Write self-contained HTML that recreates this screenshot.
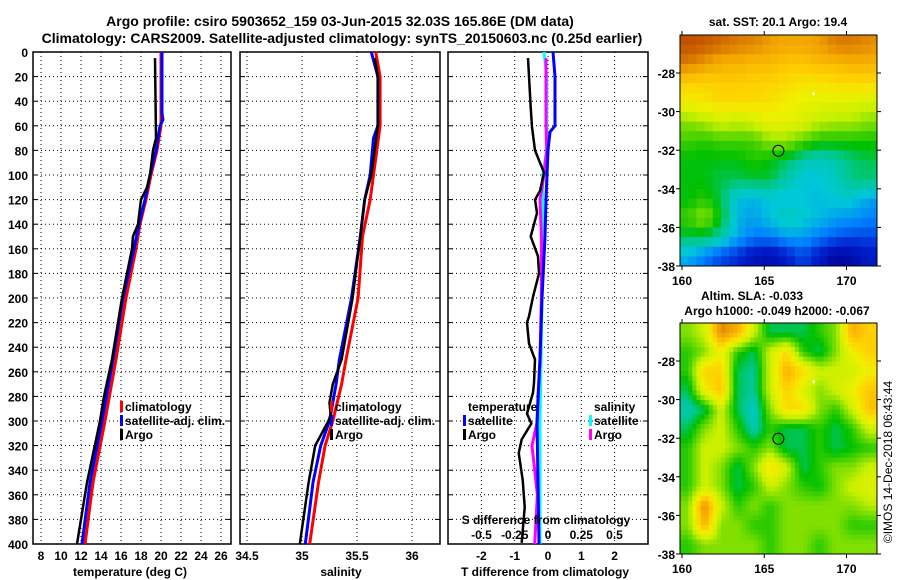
<!DOCTYPE html>
<html><head><meta charset="utf-8"><style>
html,body{margin:0;padding:0;background:#fff;}
svg{display:block;font-family:"Liberation Sans",Arial,sans-serif;font-weight:bold;}
</style></head><body>
<svg id="fig" width="900" height="580" viewBox="0 0 900 580" xmlns="http://www.w3.org/2000/svg">
<text x="340" y="26" text-anchor="middle" font-size="14">Argo profile: csiro 5903652_159 03-Jun-2015 32.03S 165.86E (DM data)</text>
<text x="342" y="43" text-anchor="middle" font-size="14">Climatology: CARS2009. Satellite-adjusted climatology: synTS_20150603.nc (0.25d earlier)</text>
<g id="layer"></g>
<text x="778" y="26" text-anchor="middle" font-size="12">sat. SST: 20.1 Argo: 19.4</text>
<text x="752" y="300" text-anchor="middle" font-size="12">Altim. SLA: -0.033</text>
<text x="777" y="315" text-anchor="middle" font-size="12">Argo h1000: -0.049 h2000: -0.067</text>
<text transform="translate(892,462) rotate(-90)" text-anchor="middle" font-size="12" font-weight="normal">©IMOS 14-Dec-2018 06:43:44</text>
</svg>
<script>
// ---- temperature panel data ----
const tClimDepth=[0,50,60,80,100,120,140,160,200,250,300,350,400];
const tClimVal=[20.0,20.0,20.0,19.6,19.0,18.5,17.9,17.5,16.5,15.5,14.4,13.2,12.4];
const tSatDepth=[0,50,55,60,80,100,120,140,160,200,250,300,350,400];
const tSatVal=[20.1,20.1,20.2,19.9,19.5,18.9,18.4,17.8,17.3,16.2,15.2,14.1,12.9,12.1];
const tArgoDepth=[5,70,80,100,110,120,140,150,160,200,250,280,300,350,400];
const tArgoVal=[19.4,19.5,19.2,18.9,18.6,18.0,17.7,17.2,17.1,16.1,15.1,14.3,13.9,12.6,11.6];
const tTicks=[8,10,12,14,16,18,20,22,24,26];
// ---- salinity panel data ----
const sClimDepth=[0,20,60,80,100,120,150,200,250,270,300,320,350,400];
const sClimVal=[35.67,35.71,35.71,35.68,35.65,35.62,35.55,35.51,35.40,35.36,35.28,35.21,35.15,35.07];
const sSatDepth=[0,10,20,60,70,80,100,120,150,200,250,270,300,320,350,400];
const sSatVal=[35.63,35.66,35.69,35.69,35.65,35.64,35.62,35.57,35.53,35.45,35.34,35.31,35.25,35.17,35.10,35.03];
const sArgoDepth=[5,20,60,80,100,120,150,200,250,270,285,295,300,320,350,400];
const sArgoVal=[35.66,35.69,35.69,35.66,35.63,35.57,35.53,35.46,35.36,35.28,35.25,35.26,35.24,35.12,35.06,34.98];
const sTicks=[34.5,35,35.5,36];
const sTickLabels=["34.5","35","35.5","36"];
// ---- difference panel data ----
const dTArgoDepth=[5,45,61,80,90,98,113,120,131,150,166,180,199,215,220,237,250,269,277,294,302,315,326,348,370,399];
const dTArgoVal=[-0.6,-0.52,-0.48,-0.39,-0.24,-0.12,-0.24,-0.39,-0.33,-0.52,-0.3,-0.27,-0.45,-0.57,-0.63,-0.57,-0.39,-0.42,-0.45,-0.63,-0.5,-0.79,-0.88,-0.76,-0.7,-0.79];
const dTSatDepth=[0,20,60,65,80,100,120,150,200,250,300,400];
const dTSatVal=[0.15,0.21,0.21,0.06,0,-0.03,-0.06,-0.09,-0.18,-0.24,-0.33,-0.27];
const dSSatDepth=[0,20,80,100,150,200,300,400];
const dSSatVal=[-0.03,-0.01,-0.01,-0.04,-0.04,-0.045,-0.06,-0.06];
const dSArgoDepth=[5,60,80,100,120,150,200,250,280,300,320,340,360,400];
const dSArgoVal=[-0.015,-0.015,-0.01,-0.03,-0.06,-0.05,-0.05,-0.06,-0.075,-0.08,-0.12,-0.1,-0.08,-0.1];
const dTTicks=[-2,-1,0,1,2];
const dSTicks=[-0.5,-0.25,0,0.25,0.5];
const dSTickLabels=["-0.5","-0.25","0","0.25","0.5"];
const depthTicks=[0,20,40,60,80,100,120,140,160,180,200,220,240,260,280,300,320,340,360,380,400];
// ---- map data (normalised colour index 0..1), rows north->south ----
const sstGrid=[
[0.93,0.92,0.9,0.88,0.87,0.84,0.82,0.82,0.84,0.88,0.88,0.86],
[0.88,0.84,0.8,0.8,0.78,0.78,0.76,0.76,0.78,0.78,0.8,0.8],
[0.74,0.73,0.75,0.75,0.74,0.74,0.72,0.7,0.7,0.72,0.72,0.72],
[0.68,0.7,0.72,0.72,0.72,0.7,0.68,0.66,0.65,0.64,0.64,0.62],
[0.55,0.58,0.62,0.6,0.62,0.66,0.66,0.63,0.6,0.58,0.58,0.55],
[0.5,0.48,0.5,0.5,0.5,0.56,0.56,0.52,0.47,0.47,0.47,0.47],
[0.45,0.45,0.45,0.45,0.48,0.45,0.42,0.36,0.34,0.36,0.4,0.42],
[0.45,0.45,0.42,0.42,0.43,0.43,0.36,0.31,0.31,0.34,0.4,0.4],
[0.45,0.48,0.42,0.3,0.29,0.31,0.3,0.31,0.3,0.32,0.32,0.27],
[0.5,0.56,0.45,0.29,0.27,0.31,0.35,0.32,0.3,0.27,0.26,0.24],
[0.42,0.42,0.36,0.28,0.23,0.23,0.27,0.27,0.23,0.2,0.18,0.18],
[0.28,0.23,0.18,0.15,0.1,0.08,0.13,0.18,0.12,0.05,0.07,0.12]];
const slaGrid=[
[0.55,0.6,0.8,0.75,0.6,0.45,0.45,0.45,0.5,0.55,0.75,0.7],
[0.5,0.55,0.65,0.5,0.45,0.6,0.68,0.5,0.45,0.55,0.65,0.7],
[0.5,0.7,0.7,0.45,0.42,0.6,0.75,0.68,0.6,0.6,0.6,0.65],
[0.45,0.65,0.72,0.45,0.42,0.6,0.7,0.62,0.55,0.6,0.65,0.72],
[0.4,0.45,0.6,0.45,0.38,0.55,0.68,0.68,0.55,0.5,0.6,0.72],
[0.45,0.55,0.6,0.5,0.4,0.5,0.45,0.45,0.5,0.45,0.5,0.6],
[0.5,0.6,0.6,0.55,0.5,0.55,0.45,0.45,0.5,0.45,0.48,0.5],
[0.5,0.6,0.55,0.45,0.55,0.68,0.6,0.45,0.5,0.55,0.55,0.6],
[0.5,0.6,0.55,0.45,0.5,0.6,0.55,0.5,0.48,0.55,0.6,0.62],
[0.55,0.8,0.6,0.5,0.55,0.5,0.55,0.55,0.55,0.55,0.55,0.58],
[0.55,0.75,0.55,0.55,0.5,0.5,0.55,0.55,0.55,0.55,0.5,0.5],
[0.5,0.55,0.55,0.55,0.55,0.5,0.55,0.55,0.5,0.55,0.55,0.55]];
const latTicks=[-28,-30,-32,-34,-36,-38];
const lonTicks=[160,165,170];
const argoLon=165.86, argoLat=-32.03;

const NS='http://www.w3.org/2000/svg';
const layer=document.getElementById('layer');
function mk(tag,attrs,parent){const e=document.createElementNS(NS,tag);for(const k in attrs)e.setAttribute(k,attrs[k]);(parent||layer).appendChild(e);return e;}
function txt(x,y,s,anchor,size){const e=mk('text',{x:x,y:y,'text-anchor':anchor||'middle','font-size':size||12});e.textContent=s;return e;}

const TOP=52,BOT=544;
const yD=d=>TOP+(d/400)*(BOT-TOP);

function panel(name){
  const g=mk('g',{});
  
  
  return g;
}
function grid(g,x0,x1,xs){
  depthTicks.forEach(d=>{if(d>0&&d<400){const l=mk('line',{x1:x0,x2:x1,y1:yD(d),y2:yD(d),stroke:'#000','stroke-width':1,'stroke-dasharray':'1,3'},g);}});
  xs.forEach(x=>{const l=mk('line',{x1:x,x2:x,y1:TOP,y2:BOT,stroke:'#000','stroke-width':1,'stroke-dasharray':'1,3'},g);});
  depthTicks.forEach(d=>{mk('line',{x1:x0,x2:x0+5,y1:yD(d),y2:yD(d),stroke:'#000'},g);mk('line',{x1:x1-5,x2:x1,y1:yD(d),y2:yD(d),stroke:'#000'},g);});
  const r=mk('rect',{x:x0,y:TOP,width:x1-x0,height:BOT-TOP,fill:'none',stroke:'#000','stroke-width':1.5},g);
  
}
function line(g,depths,vals,xf,color,w,name){
  const pts=depths.map((d,i)=>xf(vals[i]).toFixed(1)+','+yD(d).toFixed(1)).join(' ');
  const p=mk('polyline',{points:pts,fill:'none',stroke:color,'stroke-width':w,'stroke-linejoin':'round'},g);
  
  
}
function legend(g,x,y,color,label,name){
  const m=mk('rect',{x:x-5,y:y-10,width:3,height:11,fill:color},g);
  
  const t=txt(x,y,label,'start');g.appendChild(t);
  
}

const yAxis=mk('g',{});


depthTicks.forEach(d=>{const t=txt(28,yD(d)+5,String(d),'end');yAxis.appendChild(t);});

// Panel 1: temperature
const xT=v=>41+(v-8)*10;
const g1=panel('temperature-panel');
grid(g1,33,231,tTicks.map(xT));
line(g1,tClimDepth,tClimVal,xT,'#ff0000',3,'temperature-climatology-line');
line(g1,tSatDepth,tSatVal,xT,'#0000ff',3,'temperature-satellite-line');
line(g1,tArgoDepth,tArgoVal,xT,'#000000',2.5,'temperature-argo-line');
tTicks.forEach(v=>{const t=txt(xT(v),560,String(v));g1.appendChild(t);});
{const t=txt(130,576,'temperature (deg C)');g1.appendChild(t);}
legend(g1,125,411,'#ff0000','climatology','legend-climatology');
legend(g1,125,425,'#0000ff','satellite-adj. clim.','legend-satellite');
legend(g1,125,439,'#000000','Argo','legend-argo');

// Panel 2: salinity
const xS=v=>302+(v-35)*110;
const g2=panel('salinity-panel');
grid(g2,240,440,sTicks.map(xS));
line(g2,sClimDepth,sClimVal,xS,'#ff0000',3,'salinity-climatology-line');
line(g2,sSatDepth,sSatVal,xS,'#0000ff',3,'salinity-satellite-line');
line(g2,sArgoDepth,sArgoVal,xS,'#000000',2.5,'salinity-argo-line');
sTicks.forEach((v,i)=>{const t=txt(xS(v),560,sTickLabels[i]);g2.appendChild(t);});
{const t=txt(341,576,'salinity');g2.appendChild(t);}
legend(g2,335,411,'#ff0000','climatology','legend-climatology-2');
legend(g2,335,425,'#0000ff','satellite-adj. clim.','legend-satellite-2');
legend(g2,335,439,'#000000','Argo','legend-argo-2');

// Panel 3: differences
const xDT=v=>548+v*33.3;
const xDS=v=>548+v*133;
const g3=panel('difference-panel');
grid(g3,448,648,dTTicks.map(xDT));
line(g3,dSSatDepth,dSSatVal,xDS,'#00ffff',3,'salinity-diff-satellite-line');
line(g3,dSArgoDepth,dSArgoVal,xDS,'#ff00ff',3,'salinity-diff-argo-line');
line(g3,dTSatDepth,dTSatVal,xDT,'#0000ff',3,'temperature-diff-satellite-line');
line(g3,dTArgoDepth,dTArgoVal,xDT,'#000000',2.5,'temperature-diff-argo-line');
dTTicks.forEach(v=>{const t=txt(xDT(v),560,String(v));g3.appendChild(t);});
dSTicks.forEach((v,i)=>{const t=txt(xDS(v),539,dSTickLabels[i]);g3.appendChild(t);});
{const t=txt(545,576,'T difference from climatology');g3.appendChild(t);}
{const t=txt(546,524,'S difference from climatology');g3.appendChild(t);}
{const t=txt(468,411,'temperature','start');g3.appendChild(t);}
{const t=txt(594,411,'salinity','start');g3.appendChild(t);}
legend(g3,468,425,'#0000ff','satellite','legend-t-satellite');
legend(g3,468,439,'#000000','Argo','legend-t-argo');
legend(g3,594,425,'#00ffff','satellite','legend-s-satellite');
legend(g3,594,439,'#ff00ff','Argo','legend-s-argo');

// ---- maps ----
const cstops=[[0,[0,0,144]],[0.12,[0,32,208]],[0.22,[0,128,255]],[0.3,[0,200,216]],[0.38,[0,200,144]],[0.45,[0,192,0]],[0.52,[96,216,0]],[0.6,[200,240,0]],[0.68,[240,240,0]],[0.75,[255,208,0]],[0.85,[240,160,0]],[0.95,[192,80,0]],[1,[160,40,0]]];
function cmap(v){v=Math.max(0,Math.min(1,v));for(let i=1;i<cstops.length;i++){if(v<=cstops[i][0]){const a=cstops[i-1],b=cstops[i],f=(v-a[0])/(b[0]-a[0]);return 'rgb('+a[1].map((c,k)=>Math.round(c+(b[1][k]-c)*f)).join(',')+')';}}return 'rgb(160,40,0)';}
function drawMap(name,gridv,top,sub,contrast){
  const X0=680,X1=877,Y0=top,Y1=top+231;
  const lonX=l=>682+(l-160)*16.45;
  const latY=l=>top+38+(-28-l)*19.3;
  const g=mk('g',{});
  
  
  const R=gridv.length,C=gridv[0].length,N=C*sub,M=R*sub;
  const cw=(X1-X0)/N,ch=(Y1-Y0)/M;
  for(let j=0;j<M;j++)for(let i=0;i<N;i++){
    const fx=Math.max(0,Math.min(C-1,(i+0.5)/sub-0.5)),fy=Math.max(0,Math.min(R-1,(j+0.5)/sub-0.5));
    const i0=Math.floor(fx),j0=Math.floor(fy),i1=Math.min(C-1,i0+1),j1=Math.min(R-1,j0+1),ax=fx-i0,ay=fy-j0;
    let v=(gridv[j0][i0]*(1-ax)+gridv[j0][i1]*ax)*(1-ay)+(gridv[j1][i0]*(1-ax)+gridv[j1][i1]*ax)*ay;
    v=0.56+(v-0.56)*contrast;
    const r=mk('rect',{x:(X0+i*cw).toFixed(2),y:(Y0+j*ch).toFixed(2),width:(cw+0.4).toFixed(2),height:(ch+0.4).toFixed(2),fill:cmap(v)},g);
    
    
  }
  const fr=mk('rect',{x:X0,y:Y0,width:X1-X0,height:Y1-Y0,fill:'none',stroke:'#000','stroke-width':1},g);
  
  latTicks.forEach(l=>{const y=latY(l);mk('line',{x1:X0-4,x2:X0,y1:y,y2:y,stroke:'#000'},g);mk('line',{x1:X1,x2:X1+4,y1:y,y2:y,stroke:'#000'},g);
    const t=txt(X0-5,y+5,String(l),'end');g.appendChild(t);});
  lonTicks.forEach(l=>{const x=lonX(l);mk('line',{x1:x,x2:x,y1:Y0-4,y2:Y0,stroke:'#000'},g);mk('line',{x1:x,x2:x,y1:Y1,y2:Y1+4,stroke:'#000'},g);
    const t=txt(x,Y1+19,String(l));g.appendChild(t);});
  const c=mk('circle',{cx:lonX(argoLon),cy:latY(argoLat),r:5.5,fill:'none',stroke:'#000','stroke-width':1},g);
  
  const w=mk('rect',{x:lonX(168)-1,y:latY(-29.1)-2,width:2,height:3,fill:'#fff'},g);
  
}
drawMap('sst-map',sstGrid,35,2,1.05);
drawMap('sla-map',slaGrid,323,4,1.35);
</script>
</body></html>
